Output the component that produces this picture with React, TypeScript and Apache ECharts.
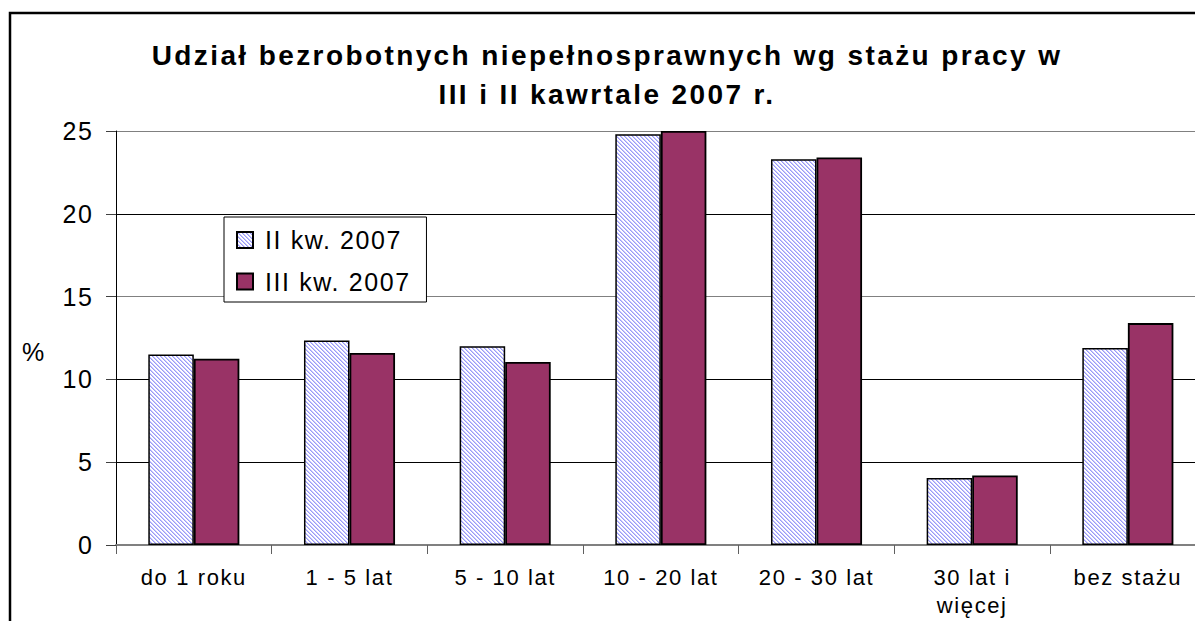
import React, { useEffect, useRef } from "react";
import * as echarts from "echarts";

const titleLines = [
  "Udział bezrobotnych niepełnosprawnych wg stażu pracy w",
  "III i II kawrtale 2007 r.",
];
const categories = [
  "do 1 roku",
  "1 - 5 lat",
  "5 - 10 lat",
  "10 - 20 lat",
  "20 - 30 lat",
  "30 lat i\nwięcej",
  "bez stażu",
];
const seriesNames = ["II kw. 2007", "III kw. 2007"];
const q2Values = [11.5, 12.35, 12.0, 24.8, 23.3, 4.05, 11.9];
const q3Values = [11.25, 11.6, 11.05, 25.0, 23.4, 4.2, 13.4];
const yMin = 0;
const yMax = 25;
const yStep = 5;
const yUnit = "%";

const FONT = '"Liberation Sans", Arial, Helvetica, sans-serif';

function makeHatch(): HTMLCanvasElement {
  const c = document.createElement("canvas");
  c.width = 4;
  c.height = 4;
  const ctx = c.getContext("2d")!;
  ctx.fillStyle = "#ffffff";
  ctx.fillRect(0, 0, 4, 4);
  for (let x = 0; x < 4; x++) {
    for (let y = 0; y < 4; y++) {
      const d = (x - y + 8) % 4;
      if (d === 0) {
        ctx.fillStyle = "#9a9af8";
        ctx.fillRect(x, y, 1, 1);
      } else if (d === 1) {
        ctx.fillStyle = "#c8c8fc";
        ctx.fillRect(x, y, 1, 1);
      }
    }
  }
  return c;
}

export default function App() {
  const ref = useRef<HTMLDivElement>(null);
  useEffect(() => {
    if (!ref.current) return;
    const chart = echarts.init(ref.current, undefined, { renderer: "svg" });
    const hatch = makeHatch();
    chart.setOption({
      animation: false,
      backgroundColor: "#ffffff",
      textStyle: { fontFamily: FONT, color: "#000" },
      title: {
        text: titleLines.join("\n"),
        left: "center",
        top: 35.8,
        padding: 0,
        textStyle: {
          fontFamily: FONT,
          fontSize: 28,
          fontWeight: "bold",
          color: "#000",
          lineHeight: 39,
        },
      },
      legend: {
        orient: "vertical",
        left: 224,
        top: 217,
        padding: [10, 35, 7.5, 12],
        itemGap: 15.5,
        itemWidth: 16,
        itemHeight: 16,
        backgroundColor: "#ffffff",
        borderColor: "#000",
        borderWidth: 1,
        borderRadius: 0,
        icon: "rect",
        data: seriesNames,
        textStyle: {
          fontFamily: FONT,
          fontSize: 25,
          color: "#000",
          lineHeight: 26,
          padding: [0, 0, 0, 7],
        },
      },
      grid: { left: 116, top: 131, right: 8.3, bottom: 105 },
      xAxis: {
        type: "category",
        data: categories,
        boundaryGap: true,
        axisLine: { lineStyle: { color: "#808080", width: 2 } },
        axisTick: { show: true, length: 9, alignWithLabel: false, lineStyle: { color: "#606060", width: 1 } },
        axisLabel: {
          interval: 0,
          margin: 18.4,
          fontFamily: FONT,
          fontSize: 22,
          lineHeight: 28,
          color: "#000",
        },
        splitLine: { show: false },
      },
      yAxis: {
        type: "value",
        min: yMin,
        max: yMax,
        interval: yStep,
        axisLine: { show: true, lineStyle: { color: "#000", width: 1 } },
        axisTick: { show: true, inside: false, length: 10, lineStyle: { color: "#404040", width: 1 } },
        axisLabel: { margin: 22.4, fontFamily: FONT, fontSize: 25, color: "#000" },
        splitLine: {
          show: true,
          lineStyle: {
            color: ["#808080", "#000", "#000", "#808080", "#000", "#808080"],
            width: 1,
          },
        },
      },
      graphic: [
        {
          type: "rect",
          shape: { x: 10, y: 13, width: 1400, height: 800 },
          style: { fill: "none", stroke: "#000", lineWidth: 2.5 },
          silent: true,
          z: 100,
        },
        {
          type: "text",
          x: 22,
          y: 352,
          style: {
            text: yUnit,
            font: `25px ${FONT}`,
            fill: "#000",
            verticalAlign: "middle",
          },
        },
      ],
      series: [
        {
          name: seriesNames[0],
          type: "bar",
          data: q2Values,
          barGap: "0%",
          barCategoryGap: "41.5%",
          itemStyle: {
            color: { image: hatch, repeat: "repeat" },
            borderColor: "#000",
            borderWidth: 1.5,
          },
        },
        {
          name: seriesNames[1],
          type: "bar",
          data: q3Values,
          barGap: "0%",
          barCategoryGap: "41.5%",
          itemStyle: {
            color: "#993366",
            borderColor: "#000",
            borderWidth: 1.8,
          },
        },
      ],
    });
    // widen bold (title) text spacing like the original rendering
    ref.current.querySelectorAll("text").forEach((el) => {
      const w = window.getComputedStyle(el).fontWeight;
      if (w === "bold" || parseInt(w, 10) >= 600) {
        (el as SVGTextElement).style.letterSpacing = "2.4px";
      }
    });
    return () => chart.dispose();
  }, []);
  return (
    <div
      ref={ref}
      style={{
        position: "fixed",
        left: 0,
        top: 0,
        width: 1214,
        height: 650,
        background: "#fff",
        letterSpacing: "1.6px",
      }}
    />
  );
}
